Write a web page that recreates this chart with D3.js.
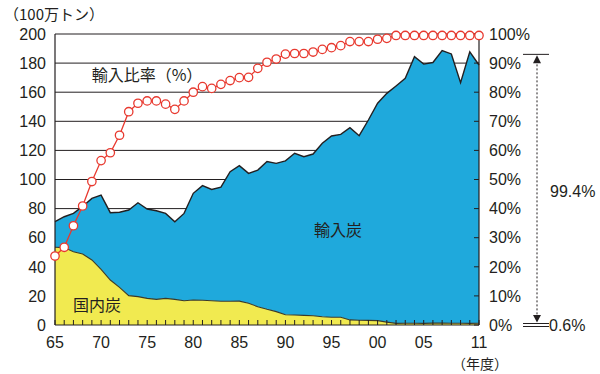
<!DOCTYPE html>
<html><head><meta charset="utf-8">
<script src="https://cdn.jsdelivr.net/npm/d3@7"></script>
<style>
body{margin:0;background:#fff;}
text{font-family:"Liberation Sans","Noto Sans CJK JP",sans-serif;fill:#231f20;}
.jp{font-family:"Noto Sans CJK JP","Liberation Sans",sans-serif;}
</style></head>
<body><svg id="c" width="600" height="374"></svg>
<script>
const years = d3.range(1965, 2012);
const domestic = [53.4,53.2,50.4,48.8,44.7,38.3,30.9,25.9,20.2,19.5,18.3,17.6,18.3,17.6,16.7,17.2,17.0,16.7,16.3,16.3,16.4,14.9,12.6,10.8,9.2,7.0,6.9,6.6,6.4,5.7,5.3,5.3,3.5,3.3,3.2,3.0,2.0,1.1,1.2,1.2,1.1,1.3,1.3,1.2,1.2,1.1,1.2];
const imported = [17.6,21.2,26.3,32.7,42.3,51.0,46.3,51.6,58.8,64.5,61.4,60.9,58.4,53.4,60.0,73.3,78.8,76.5,78.5,89.1,93.1,89.3,93.9,101.5,101.9,105.8,111.1,109.1,111.1,119.2,124.6,125.7,132.1,126.8,137.7,149.4,157.2,163.2,168.3,183.2,178.2,179.1,187.3,185.1,165.4,186.7,177.5];
const importRatio = [23.7,26.7,34.1,40.9,49.3,56.5,59.2,65.2,73.3,76.2,77,77,75.9,74.1,77,80,81.9,81.3,82.7,84,85,85.1,88.2,90.3,91.4,93.1,93.3,93.3,93.8,94.7,95.3,96,97.4,97.4,97.4,98.2,98.5,99.5,99.5,99.5,99.5,99.5,99.5,99.5,99.5,99.5,99.5];
const leftTicks = [0,20,40,60,80,100,120,140,160,180,200];
const rightTicks = [0,10,20,30,40,50,60,70,80,90,100];
const xTickYears = [1965,1970,1975,1980,1985,1990,1995,2000,2005,2011];
const xTickLabels = ["65","70","75","80","85","90","95","00","05","11"];
const annoTopValue = 186;

const svg = d3.select("#c");
const x = d3.scaleLinear().domain([1965,2011]).range([55,479]);
const y = d3.scaleLinear().domain([0,200]).range([325,34]);
const yr = d3.scaleLinear().domain([0,100]).range([325,34]);

// gridlines
svg.append("g").selectAll("line").data(leftTicks.slice(1)).join("line")
  .attr("x1",x(1965)).attr("x2",x(2011)).attr("y1",d=>y(d)).attr("y2",d=>y(d))
  .attr("stroke","#231f20").attr("stroke-width",1);

const data = years.map((yr_,i)=>({year:yr_, dom:domestic[i], tot:domestic[i]+imported[i], r:importRatio[i]}));

svg.append("path").datum(data)
  .attr("d", d3.area().x(d=>x(d.year)).y0(d=>y(d.dom)).y1(d=>y(d.tot)))
  .attr("fill","#1fa9dc");
svg.append("path").datum(data)
  .attr("d", d3.area().x(d=>x(d.year)).y0(y(0)).y1(d=>y(d.dom)))
  .attr("fill","#f1ea50");
svg.append("path").datum(data)
  .attr("d", d3.line().x(d=>x(d.year)).y(d=>y(d.dom)))
  .attr("fill","none").attr("stroke","#3a3a2a").attr("stroke-width",1.1);
svg.append("path").datum(data)
  .attr("d", d3.line().x(d=>x(d.year)).y(d=>y(d.tot)))
  .attr("fill","none").attr("stroke","#231f20").attr("stroke-width",1.4);

svg.append("g").selectAll("line").data(years).join("line")
  .attr("x1",d=>x(d)).attr("x2",d=>x(d)).attr("y1",y(0)).attr("y2",y(0)-5)
  .attr("stroke","#231f20").attr("stroke-width",1);
svg.append("g").selectAll("line").data(rightTicks).join("line")
  .attr("x1",x(2011)-5).attr("x2",x(2011)).attr("y1",d=>yr(d)).attr("y2",d=>yr(d))
  .attr("stroke","#231f20").attr("stroke-width",1);

svg.append("line").attr("x1",x(1965)).attr("x2",x(1965)).attr("y1",y(0)).attr("y2",y(200)).attr("stroke","#231f20").attr("stroke-width",1.2);
svg.append("line").attr("x1",x(2011)).attr("x2",x(2011)).attr("y1",y(0)).attr("y2",y(200)).attr("stroke","#231f20").attr("stroke-width",1.2);
svg.append("line").attr("x1",x(1965)).attr("x2",x(2011)).attr("y1",y(0)).attr("y2",y(0)).attr("stroke","#231f20").attr("stroke-width",1.2);

svg.append("path").datum(data)
  .attr("d", d3.line().x(d=>x(d.year)).y(d=>yr(d.r)))
  .attr("fill","none").attr("stroke","#e8392f").attr("stroke-width",1.3);
svg.append("g").selectAll("circle").data(data).join("circle")
  .attr("cx",d=>x(d.year)).attr("cy",d=>yr(d.r)).attr("r",4.2)
  .attr("fill","#fff").attr("stroke","#e8392f").attr("stroke-width",1.3);

svg.append("g").selectAll("text").data(leftTicks).join("text")
  .attr("x",46).attr("y",d=>y(d)).attr("dy","0.36em").attr("text-anchor","end")
  .attr("font-size",16).text(d=>d);
svg.append("g").selectAll("text").data(rightTicks).join("text")
  .attr("x",489).attr("y",d=>yr(d)).attr("dy","0.36em").attr("text-anchor","start")
  .attr("font-size",16).text(d=>d+"%");
svg.append("g").selectAll("text").data(xTickYears).join("text")
  .attr("x",d=>x(d)).attr("y",348).attr("text-anchor","middle")
  .attr("font-size",16).text((d,i)=>xTickLabels[i]);

svg.append("text").attr("class","jp").attr("x",4).attr("y",20).attr("font-size",15).text("（100万トン）");
svg.append("text").attr("class","jp").attr("x",480).attr("y",369).attr("text-anchor","middle").attr("font-size",14).text("（年度）");
svg.append("text").attr("class","jp").attr("x",147).attr("y",81).attr("text-anchor","middle").attr("font-size",16).text("輸入比率（%）");
svg.append("text").attr("class","jp").attr("x",97).attr("y",311).attr("text-anchor","middle").attr("font-size",16).text("国内炭");
svg.append("text").attr("class","jp").attr("x",338).attr("y",236).attr("text-anchor","middle").attr("font-size",16).text("輸入炭");

const ax = 537, topY = y(annoTopValue), botY = y(0);
svg.append("line").attr("x1",523).attr("x2",549).attr("y1",topY).attr("y2",topY).attr("stroke","#231f20").attr("stroke-width",1);
svg.append("line").attr("x1",523).attr("x2",549).attr("y1",botY-1.5).attr("y2",botY-1.5).attr("stroke","#231f20").attr("stroke-width",1);
svg.append("line").attr("x1",523).attr("x2",549).attr("y1",botY+1.5).attr("y2",botY+1.5).attr("stroke","#231f20").attr("stroke-width",1);
svg.append("line").attr("x1",ax).attr("x2",ax).attr("y1",topY+6).attr("y2",botY-7)
  .attr("stroke","#231f20").attr("stroke-width",1).attr("stroke-dasharray","2,2");
svg.append("path").attr("d",`M${ax},${topY+1}L${ax-4},${topY+9}L${ax+4},${topY+9}Z`).attr("fill","#231f20");
svg.append("path").attr("d",`M${ax},${botY-2.5}L${ax-4},${botY-10}L${ax+4},${botY-10}Z`).attr("fill","#231f20");
svg.append("text").attr("x",550).attr("y",y(92)).attr("dy","0.36em").attr("font-size",16).text("99.4%");
svg.append("text").attr("x",549).attr("y",botY).attr("dy","0.36em").attr("font-size",16).text("0.6%");
</script></body></html>
